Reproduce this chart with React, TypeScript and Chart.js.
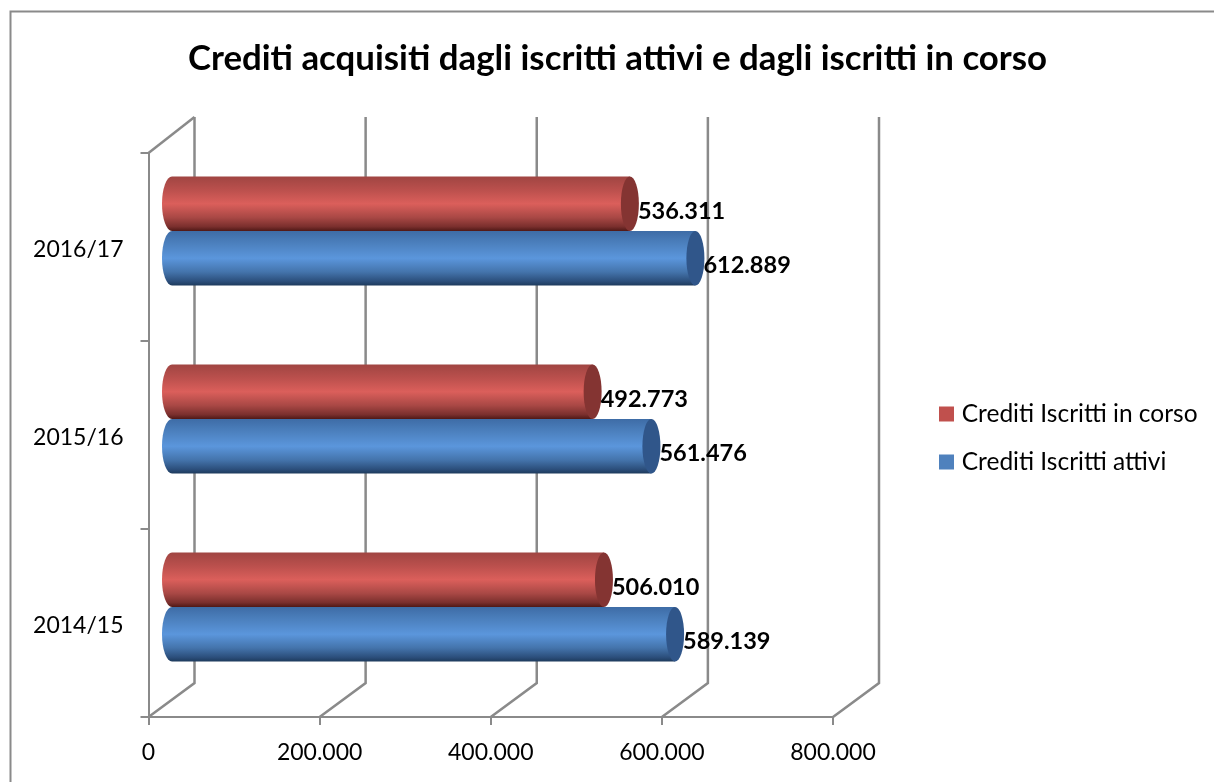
import React, { useEffect, useRef } from "react";
import { Chart, registerables } from "chart.js";

Chart.register(...registerables);

const categories = ["2016/17", "2015/16", "2014/15"];
const creditiInCorso = [536311, 492773, 506010];
const creditiAttivi = [612889, 561476, 589139];
const seriesNames = ["Crediti Iscritti in corso", "Crediti Iscritti attivi"];
const chartTitle = "Crediti acquisiti dagli iscritti attivi e dagli iscritti in corso";
const legendColors = ["#c0504d", "#4f81bd"];
const capColors = ["#843432", "#30568a"];
const redStops = ["#a04542", "#bb504d", "#db5f5b", "#a94845", "#7a2f2d", "#4f1816"];
const blueStops = ["#3e6ca6", "#4d82c0", "#5b96dc", "#4474ac", "#2c4f7c", "#1d3a5c"];
const stopPositions = [0, 0.25, 0.5, 0.75, 0.92, 1];

const DEPTH_X = 46;
const DEPTH_Y = 34;
const SHIFT_X = 22.5;
const SHIFT_Y = -16;
const CAT_PCT = 0.58;
const GREY = "#8a8a8a";
const FONT = "Lato";

const fmt = (v: number) => (v === 0 ? "0" : String(Math.round(v)).replace(/\B(?=(\d{3})+$)/g, "."));

function bodyGradient(c: any) {
  const chart = c.chart;
  const y = chart.scales.y;
  const idx = c.dataIndex;
  const ds = c.datasetIndex;
  if (!y || idx === undefined) return legendColors[ds ?? 0];
  const band = Math.abs(y.getPixelForTick(1) - y.getPixelForTick(0));
  const thick = (band * CAT_PCT) / 2;
  const top = y.getPixelForTick(idx) + (ds - 1) * thick;
  const g = chart.ctx.createLinearGradient(0, top, 0, top + thick);
  const stops = ds === 0 ? redStops : blueStops;
  stops.forEach((s, i) => g.addColorStop(stopPositions[i], s));
  return g;
}

const cylinderPlugin = {
  id: "cylinder",
  beforeLayout(chart: any) {
    const l = chart.legend;
    if (l && !l.__patched) {
      const f = l.fit;
      l.fit = function () {
        f.call(this);
        this.width = 381;
      };
      l.__patched = true;
    }
  },
  afterLayout(chart: any) {
    chart.legend.left = 920;
    chart.legend.top += 3;
    chart.legend.bottom += 3;
    chart.titleBlock.left += 10.5;
    chart.titleBlock.right += 10.5;
  },
  beforeDraw(chart: any) {
    const { ctx, width, height } = chart;
    ctx.save();
    ctx.fillStyle = "#ffffff";
    ctx.fillRect(0, 0, width, height);
    ctx.strokeStyle = GREY;
    ctx.lineWidth = 2;
    ctx.strokeRect(10.5, 11.5, width + 20, height + 20);
    ctx.restore();
  },
  beforeDatasetsDraw(chart: any) {
    const { ctx, scales } = chart;
    const { x, y } = scales;
    const bottom = y.bottom;
    ctx.save();
    ctx.strokeStyle = GREY;
    ctx.lineWidth = 2.5;
    x.ticks.forEach((t: any) => {
      const px = x.getPixelForValue(t.value);
      ctx.beginPath();
      ctx.moveTo(px, bottom);
      ctx.lineTo(px + DEPTH_X, bottom - DEPTH_Y);
      ctx.lineTo(px + DEPTH_X, y.top - DEPTH_Y - 2);
      ctx.stroke();
    });
    ctx.beginPath();
    ctx.moveTo(x.left, y.top);
    ctx.lineTo(x.left + DEPTH_X, y.top - DEPTH_Y - 2);
    ctx.stroke();
    ctx.restore();
    ctx.save();
    ctx.translate(SHIFT_X, SHIFT_Y);
  },
  beforeDatasetDraw(chart: any, args: any) {
    const { ctx } = chart;
    args.meta.data.forEach((bar: any, i: number) => {
      const ry = bar.height / 2;
      ctx.save();
      ctx.fillStyle = bodyGradient({ chart, dataIndex: i, datasetIndex: args.index });
      ctx.beginPath();
      ctx.ellipse(bar.base, bar.y, 10, ry, 0, Math.PI / 2, (3 * Math.PI) / 2);
      ctx.closePath();
      ctx.fill();
      ctx.restore();
    });
  },
  afterDatasetDraw(chart: any, args: any) {
    const { ctx } = chart;
    args.meta.data.forEach((bar: any) => {
      ctx.save();
      ctx.fillStyle = capColors[args.index];
      ctx.beginPath();
      ctx.ellipse(bar.x, bar.y, 9, bar.height / 2, 0, 0, Math.PI * 2);
      ctx.fill();
      ctx.restore();
    });
  },
  afterDatasetsDraw(chart: any) {
    const { ctx } = chart;
    ctx.restore();
    ctx.save();
    ctx.fillStyle = "#000000";
    ctx.font = `bold 23.5px ${FONT}`;
    ctx.textBaseline = "middle";
    chart.data.datasets.forEach((ds: any, di: number) => {
      chart.getDatasetMeta(di).data.forEach((bar: any, i: number) => {
        ctx.fillText(fmt(ds.data[i]), bar.x + SHIFT_X + 8, bar.y - 17 + 8.5);
      });
    });
    ctx.restore();
  },
};

export default function App() {
  const ref = useRef<HTMLCanvasElement>(null);
  useEffect(() => {
    const chart = new Chart(ref.current as HTMLCanvasElement, {
      type: "bar",
      data: {
        labels: categories,
        datasets: [
          { label: seriesNames[0], data: creditiInCorso, backgroundColor: bodyGradient, clip: false },
          { label: seriesNames[1], data: creditiAttivi, backgroundColor: bodyGradient, clip: false },
        ],
      } as any,
      options: {
        indexAxis: "y",
        animation: false,
        responsive: false,
        layout: { padding: 0 },
        datasets: { bar: { barPercentage: 1, categoryPercentage: CAT_PCT } },
        scales: {
          x: {
            min: 0,
            max: 800000,
            afterFit(s: any) {
              s.height = 65;
            },
            ticks: {
              stepSize: 200000,
              maxRotation: 0,
              color: "#000000",
              font: { family: FONT, size: 23 },
              padding: 14,
              callback: (v: any) => fmt(Number(v)),
            },
            grid: { drawOnChartArea: false, color: GREY, lineWidth: 2, tickLength: 8 },
            border: { color: GREY, width: 2 },
          },
          y: {
            afterFit(s: any) {
              s.width = 148.5;
            },
            ticks: {
              color: "#000000",
              font: { family: FONT, size: 23 },
              padding: 17,
              labelOffset: 3,
            },
            grid: { drawOnChartArea: false, color: GREY, lineWidth: 2, tickLength: 8 },
            border: { color: GREY, width: 2 },
          },
        },
        plugins: {
          tooltip: { enabled: false },
          title: {
            display: true,
            text: chartTitle,
            color: "#000000",
            font: { family: FONT, size: 34.8, weight: "bold", lineHeight: "34px" },
            padding: { top: 42, bottom: 77 },
          },
          legend: {
            display: true,
            position: "right",
            fullSize: false,
            align: "center",
            labels: {
              color: "#000000",
              font: { family: FONT, size: 24.5 },
              padding: 23.5,
              boxWidth: 6,
              boxHeight: 6,
              generateLabels: (c: any) =>
                c.data.datasets.map((d: any, i: number) => ({
                  text: d.label,
                  fillStyle: legendColors[i],
                  strokeStyle: legendColors[i],
                  lineWidth: 9,
                  datasetIndex: i,
                })),
            },
          },
        },
      } as any,
      plugins: [cylinderPlugin],
    });
    return () => chart.destroy();
  }, []);
  return (
    <canvas
      ref={ref}
      width={1214}
      height={782}
      style={{ position: "absolute", left: 0, top: 0, display: "block", width: 1214, height: 782 }}
    />
  );
}
